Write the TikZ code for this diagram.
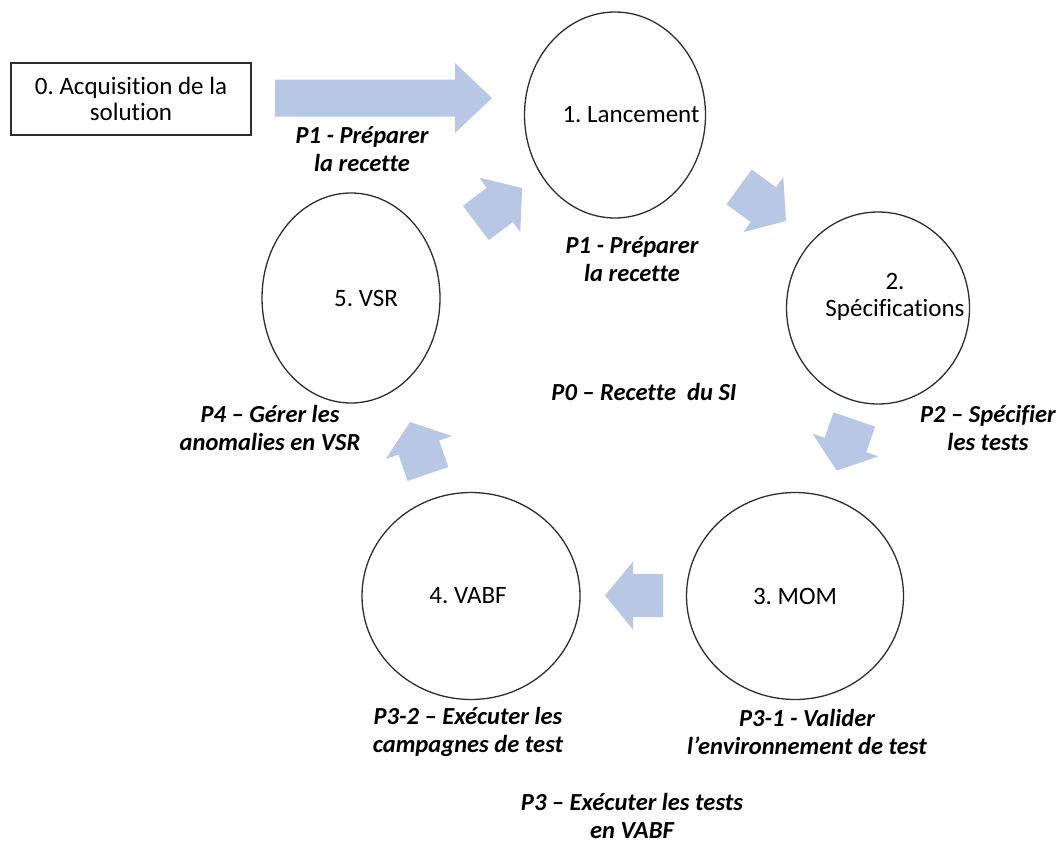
\documentclass[tikz,border=0pt]{standalone}
\usepackage{fontspec}
\setmainfont{Carlito}[Ligatures={NoCommon}]
\usetikzlibrary{shapes.geometric}
\definecolor{flow}{RGB}{183,199,228}
\definecolor{rim}{RGB}{45,45,45}
\frenchspacing
\tikzset{
  stage/.style={ellipse,draw=rim,line width=1.3pt,inner sep=0pt},
  stagetext/.style={font=\fontsize{25}{26.5}\selectfont,align=center,inner sep=0pt},
  phase/.style={font=\fontsize{24.5}{27.5}\selectfont\bfseries\itshape,align=center,inner sep=0pt}
}
% block arrow: centre, angle, length, shaft width, head width, head length
\newcommand\fatarrow[6]{%
  \fill[flow,shift={#1},rotate=#2] (-#3/2,-#4/2) -- (#3/2-#6,-#4/2) -- (#3/2-#6,-#5/2)
    -- (#3/2,0) -- (#3/2-#6,#5/2) -- (#3/2-#6,#4/2) -- (-#3/2,#4/2) -- cycle;}
\begin{document}
\begin{tikzpicture}[x=1pt,y=-1pt]
\useasboundingbox (0,0) rectangle (1062,843);
% block arrows
\fatarrow{(383.5,98)}{0}{217}{37}{70}{37}
\fatarrow{(499,205.5)}{37}{58}{43}{68}{28}
\fatarrow{(762.5,204)}{-36}{58}{43}{68}{28}
\fatarrow{(845.5,445)}{-109}{54}{44}{70}{27}
\fatarrow{(634,595.5)}{180}{58}{43}{68}{28}
\fatarrow{(419,448)}{109}{55}{43}{70}{27}
% the box and the five stages
\node[draw=rim,line width=1.5pt,minimum width=240pt,minimum height=72pt,stagetext] (a0) at (131,99) {0. Acquisition de la\\solution};
\node[stage,minimum width=181pt,minimum height=206pt] (c1) at (615,115) {};
\node[stage,minimum width=183pt,minimum height=192pt] (c2) at (878,308) {};
\node[stage,minimum width=217pt,minimum height=207pt] (c3) at (795,596) {};
\node[stage,minimum width=218pt,minimum height=207pt] (c4) at (471,596) {};
\node[stage,minimum width=178pt,minimum height=210pt] (c5) at (351,298) {};
\node[stagetext] (t1) at ([xshift=16pt]c1.center) {1. Lancement};
\node[stagetext] (t2) at ([xshift=17pt,yshift=11pt]c2.center) {2.\\Spécifications};
\node[stagetext] (t3) at (c3.center) {3. MOM};
\node[stagetext] (t4) at ([xshift=-3pt]c4.center) {4. VABF};
\node[stagetext] (t5) at ([xshift=15pt]c5.center) {5. VSR};
% phase labels
\node[phase] (p1a) at (362,149) {P1 - Préparer\\la recette};
\node[phase] (p1b) at (632,259) {P1 - Préparer\\la recette};
\node[phase] (p0) at (644,392) {P0 – Recette\ \ du SI};
\node[phase] (p2) at (988,428) {P2 – Spécifier\\les tests};
\node[phase] (p4) at (270,428) {P4 – Gérer les\\anomalies en VSR};
\node[phase] (p32) at (468,732) {P3-2 – Exécuter les\\campagnes de test};
\node[phase] (p31) at (807,732) {P3-1 - Valider\\l’environnement de test};
\node[phase] (p3) at (632,816) {P3 – Exécuter les tests\\en VABF};
\end{tikzpicture}
\end{document}
